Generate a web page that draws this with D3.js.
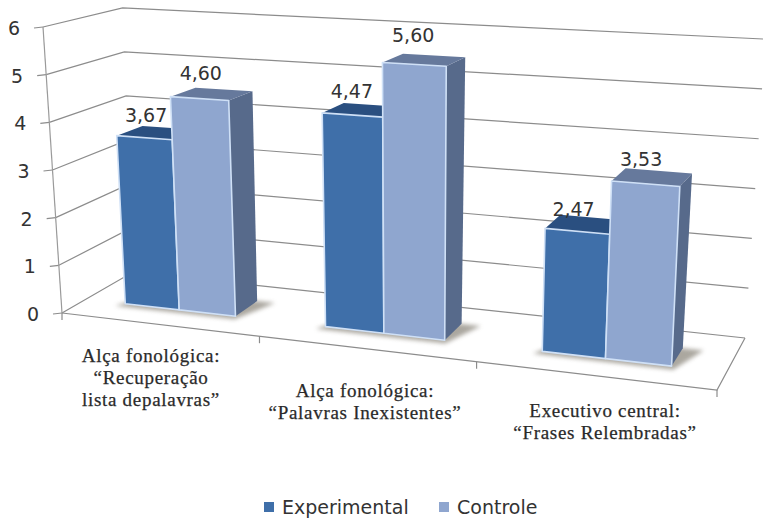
<!DOCTYPE html>
<html lang="pt">
<head>
<meta charset="utf-8">
<script src="https://cdn.jsdelivr.net/npm/d3@7"></script>
<style>
html,body{margin:0;padding:0;background:#fff}
svg{display:block}
</style>
</head>
<body>
<svg id="chart" width="763" height="519"></svg>
<script>
const categories = [
  ["Alça fonológica:", "“Recuperação", "lista depalavras”"],
  ["Alça fonológica:", "“Palavras Inexistentes”"],
  ["Executivo central:", "“Frases Relembradas”"]
];
const seriesNames = ["Experimental", "Controle"];
const experimental = [3.67, 4.47, 2.47];
const controle = [4.60, 5.60, 3.53];
const valueLabels = [["3,67", "4,47", "2,47"], ["4,60", "5,60", "3,53"]];
const valueTicks = [0, 1, 2, 3, 4, 5, 6];

// Floor of the 3D plot box: front-left, front-right, back-right, back-left
const floorQuad = [[62, 313], [717, 390], [745, 338], [133, 272]];
// Verticals converge slightly on a point far below the chart; it drifts left with depth
const vanishY = 5988, vanishXFront = 439, vanishXBack = 358;
// How far each floor corner rises at the top of the axis, as a share of its distance from that point
const riseFront = [0.0504, 0.0575];
const riseBack = [0.0462, 0.0529];
// Foreshortening of heights away from the two walls
const riseBulge = 0.0055;
// Divisions of the floor's front edge
const categoryEdges = [0, 0.328, 0.661, 1];
// Share of each bar pair taken by the first bar
const firstBarShare = 0.495;
// Vertical nudges of the value labels, by series then category
const labelNudge = [[2, 0, 4], [-2, -6, 1]];

// Unit-square to quadrilateral perspective transform
function homography(q) {
  const [[x0, y0], [x1, y1], [x2, y2], [x3, y3]] = q;
  const dx1 = x1 - x2, dx2 = x3 - x2, sx = x0 - x1 + x2 - x3;
  const dy1 = y1 - y2, dy2 = y3 - y2, sy = y0 - y1 + y2 - y3;
  const den = dx1 * dy2 - dx2 * dy1;
  const g = (sx * dy2 - dx2 * sy) / den, h = (dx1 * sy - sx * dy1) / den;
  const a = x1 - x0 + g * x1, b = x3 - x0 + h * x3;
  const d = y1 - y0 + g * y1, e = y3 - y0 + h * y3;
  return (u, w) => {
    const k = g * u + h * w + 1;
    return [(a * u + b * w + x0) / k, (d * u + e * w + y0) / k];
  };
}
const floorMap = homography(floorQuad);

const valueScale = d3.scaleLinear().domain([0, 6]).range([0, 1]);
const categoryScale = d3.scaleBand().domain(d3.range(categories.length)).range([-0.003, 0.995])
  .paddingInner(0.44).paddingOuter(0.215);
const seriesEdges = [[0, firstBarShare], [firstBarShare, 1]]
  .map(e => e.map(f => f * categoryScale.bandwidth()));

function project(u, w, v) {
  const t = valueScale(v);
  const p = floorMap(u, w);
  const front = riseFront[0] + (riseFront[1] - riseFront[0]) * u;
  const back = riseBack[0] + (riseBack[1] - riseBack[0]) * u;
  const s = (front + (back - front) * w - riseBulge * w * (1 - w)) * t;
  const vx = vanishXFront + (vanishXBack - vanishXFront) * w;
  return [p[0] + s * (p[0] - vx), p[1] + s * (p[1] - vanishY)];
}

const depthFront = 0.32, depthBack = 0.67;
const gridColor = "#8c8c8c", axisColor = "#9a9a9a";
const palette = [
  { front: "#3f6fa9", top: "#2a4f80", side: "#2f5787" },
  { front: "#8fa6cf", top: "#66799c", side: "#576a8b" }
];

const svg = d3.select("#chart");
const path = d3.line();
const defs = svg.append("defs");
defs.append("filter").attr("id", "soft").attr("x", "-20%").attr("y", "-50%").attr("width", "140%").attr("height", "200%")
  .append("feGaussianBlur").attr("stdDeviation", 2);

// Walls: one gridline per tick along the left and the back
const grid = svg.append("g").attr("fill", "none").attr("stroke", gridColor).attr("stroke-width", 1.2);
valueTicks.forEach(v => {
  grid.append("path").attr("d", path([project(0, 0, v), project(0, 1, v), project(1, 1, v)]));
  const a = project(0, 0, v);
  grid.append("line").attr("x1", a[0] - 9).attr("x2", a[0]).attr("y1", a[1] + 1).attr("y2", a[1]);
});

// Floor outline, vertical axis and category ticks
grid.append("path").attr("d", path([project(0, 0, 0), project(1, 0, 0), project(1, 1, 0)]));
grid.append("path").attr("stroke", axisColor).attr("d", path([project(0, 0, 0), project(0, 0, 6)]));
categoryEdges.forEach(edge => {
  const a = floorMap(edge, 0);
  grid.append("line").attr("x1", a[0]).attr("x2", a[0]).attr("y1", a[1]).attr("y2", a[1] + 7);
});

const values = [experimental, controle];
const bars = svg.append("g");
categories.forEach((_, c) => {
  const u0 = categoryScale(c);
  const un = u0 + categoryScale.bandwidth();

  // Soft shadow under each pair of bars
  bars.append("path").attr("fill", "#8f8a80").attr("opacity", 0.75).attr("filter", "url(#soft)")
    .attr("d", path([floorMap(u0 - 0.01, depthFront - 0.06), floorMap(un + 0.005, depthFront - 0.06),
      floorMap(un + 0.03, depthBack), floorMap(u0 + 0.03, depthBack)]) + "Z");

  seriesNames.forEach((_, s) => {
    const u1 = u0 + seriesEdges[s][0], u2 = u0 + seriesEdges[s][1];
    const v = values[s][c], col = palette[s];
    const edge = { stroke: "#cfe0f6", "stroke-width": 1.6, "stroke-linejoin": "round" };
    const face = (pts, fill, outlined) => {
      const el = bars.append("path").attr("d", path(pts) + "Z").attr("fill", fill);
      if (outlined) Object.entries(edge).forEach(([k, val]) => el.attr(k, val));
    };
    face([project(u2, depthFront, 0), project(u2, depthBack, 0), project(u2, depthBack, v), project(u2, depthFront, v)], col.side, false);
    face([project(u1, depthFront, v), project(u2, depthFront, v), project(u2, depthBack, v), project(u1, depthBack, v)], col.top, false);
    face([project(u1, depthFront, 0), project(u2, depthFront, 0), project(u2, depthFront, v), project(u1, depthFront, v)], col.front, true);
  });
});

// Value labels above each bar
const labels = svg.append("g").attr("font-family", "'DejaVu Sans', sans-serif").attr("font-size", 19)
  .attr("fill", "#333").attr("text-anchor", "middle");
categories.forEach((_, c) => {
  seriesNames.forEach((_, s) => {
    const um = categoryScale(c) + (seriesEdges[s][0] + seriesEdges[s][1]) / 2;
    const p = project(um, (depthFront + depthBack) / 2, values[s][c]);
    labels.append("text").attr("x", p[0] - 11).attr("y", p[1] - 13 + labelNudge[s][c]).text(valueLabels[s][c]);
  });
});

// Value axis labels
svg.append("g").attr("font-family", "'DejaVu Sans', sans-serif").attr("font-size", 19).attr("fill", "#333")
  .attr("text-anchor", "middle")
  .selectAll("text").data(valueTicks).join("text")
  .attr("x", v => project(0, 0, v)[0] - 29)
  .attr("y", v => project(0, 0, v)[1] + 8)
  .text(v => v);

// Category labels, stepping down with the floor edge
const catAnchors = [[151, 362], [365, 397], [605, 417]];
const catText = svg.append("g").attr("font-family", "'Liberation Serif', serif").attr("font-size", 19)
  .attr("letter-spacing", 0.7)
  .attr("fill", "#2a2a2a").attr("stroke", "#2a2a2a").attr("stroke-width", 0.25).attr("text-anchor", "middle");
categories.forEach((lines, c) => {
  lines.forEach((line, i) => {
    catText.append("text").attr("x", catAnchors[c][0]).attr("y", catAnchors[c][1] + i * 22).text(line);
  });
});

// Legend
const legend = svg.append("g").attr("font-family", "'DejaVu Sans', sans-serif").attr("font-size", 19).attr("fill", "#333");
const legendX = [264, 439];
seriesNames.forEach((name, s) => {
  legend.append("rect").attr("x", legendX[s]).attr("y", 502).attr("width", 10).attr("height", 10).attr("fill", palette[s].front);
  legend.append("text").attr("x", legendX[s] + 18).attr("y", 514).text(name);
});
</script>
</body>
</html>
